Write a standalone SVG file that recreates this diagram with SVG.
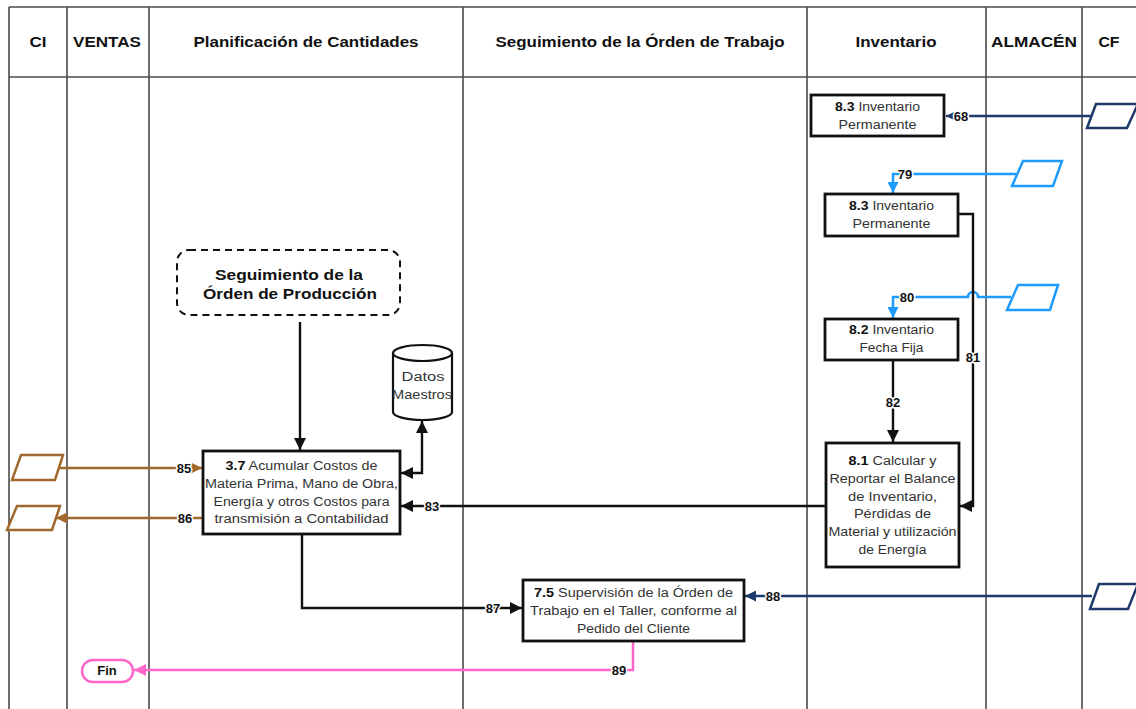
<svg xmlns="http://www.w3.org/2000/svg" width="1136" height="709" viewBox="0 0 1136 709">
  <style>
    .lane { stroke: #4a4a4a; stroke-width: 1.6; fill: none; }
    .hdr { font-family: "Liberation Sans", Arial, sans-serif; font-weight: bold; font-size: 14.5px; fill: #111; text-anchor: middle; }
    .box { fill: #fff; stroke: #111; stroke-width: 2.8; }
    .txt { font-family: "Liberation Sans", Arial, sans-serif; font-size: 12.5px; fill: #333; text-anchor: middle; }
    .num { font-weight: bold; fill: #111; }
    .lbl { font-family: "Liberation Sans", Arial, sans-serif; font-weight: bold; font-size: 13px; fill: #111; text-anchor: middle; paint-order: stroke; stroke: #fff; stroke-width: 3px; }
    .k { stroke: #111; stroke-width: 2.4; fill: none; }
    .navy { stroke: #1d3a6b; stroke-width: 2.5; fill: none; }
    .sky { stroke: #1e9bff; stroke-width: 2.5; fill: none; }
    .brown { stroke: #a0692e; stroke-width: 2.5; fill: none; }
    .pink { stroke: #ff66cc; stroke-width: 2.5; fill: none; }
    .doc-navy { fill: #fff; stroke: #1d3a6b; stroke-width: 2.5; }
    .doc-sky { fill: #fff; stroke: #1e9bff; stroke-width: 2.5; }
    .doc-brown { fill: #fff; stroke: #a0692e; stroke-width: 2.5; }
  </style>
  <defs>
    <marker id="ak" viewBox="0 0 10 10" refX="10" refY="5" markerWidth="12" markerHeight="12" markerUnits="userSpaceOnUse" orient="auto-start-reverse">
      <path d="M0,0 L10,5 L0,10 z" fill="#111"/>
    </marker>
    <marker id="an" viewBox="0 0 10 10" refX="10" refY="5" markerWidth="11" markerHeight="11" markerUnits="userSpaceOnUse" orient="auto">
      <path d="M0,0 L10,5 L0,10 z" fill="#1d3a6b"/>
    </marker>
    <marker id="as" viewBox="0 0 10 10" refX="10" refY="5" markerWidth="11" markerHeight="11" markerUnits="userSpaceOnUse" orient="auto">
      <path d="M0,0 L10,5 L0,10 z" fill="#1e9bff"/>
    </marker>
    <marker id="ab" viewBox="0 0 10 10" refX="10" refY="5" markerWidth="11" markerHeight="11" markerUnits="userSpaceOnUse" orient="auto">
      <path d="M0,0 L10,5 L0,10 z" fill="#a0692e"/>
    </marker>
    <marker id="ap" viewBox="0 0 10 10" refX="10" refY="5" markerWidth="12" markerHeight="12" markerUnits="userSpaceOnUse" orient="auto">
      <path d="M0,0 L10,5 L0,10 z" fill="#ff66cc"/>
    </marker>
  </defs>

  <rect width="1136" height="709" fill="#fff"/>

  <!-- swimlane frame -->
  <g id="lanes">
    <line class="lane" x1="9" y1="7" x2="1136" y2="7"/>
    <line class="lane" x1="9" y1="77" x2="1136" y2="77"/>
    <line class="lane" x1="9" y1="7" x2="9" y2="709"/>
    <line class="lane" x1="67" y1="7" x2="67" y2="709"/>
    <line class="lane" x1="149" y1="7" x2="149" y2="709"/>
    <line class="lane" x1="463" y1="7" x2="463" y2="709"/>
    <line class="lane" x1="807" y1="7" x2="807" y2="709"/>
    <line class="lane" x1="986" y1="7" x2="986" y2="709"/>
    <line class="lane" x1="1082" y1="7" x2="1082" y2="709"/>
    <text class="hdr" x="38" y="47" textLength="17" lengthAdjust="spacingAndGlyphs">CI</text>
    <text class="hdr" x="107" y="47" textLength="68" lengthAdjust="spacingAndGlyphs">VENTAS</text>
    <text class="hdr" x="306" y="47" textLength="225" lengthAdjust="spacingAndGlyphs">Planificación de Cantidades</text>
    <text class="hdr" x="640" y="47" textLength="289" lengthAdjust="spacingAndGlyphs">Seguimiento de la Órden de Trabajo</text>
    <text class="hdr" x="896" y="47" textLength="81" lengthAdjust="spacingAndGlyphs">Inventario</text>
    <text class="hdr" x="1034" y="47" textLength="86" lengthAdjust="spacingAndGlyphs">ALMACÉN</text>
    <text class="hdr" x="1109" y="47" textLength="21" lengthAdjust="spacingAndGlyphs">CF</text>
  </g>

  <!-- connectors -->
  <g id="connectors">
    <path class="navy" d="M1091,116 H946" marker-end="url(#an)"/>
    <path class="sky" d="M1016,174 H893 V193" marker-end="url(#as)"/>
    <path class="sky" d="M1011,297 H978 A5,5 0 0 0 968,297 H893 V318" marker-end="url(#as)"/>
    <path class="k" d="M959,214 H973 V506 H960" marker-end="url(#ak)"/>
    <path class="k" d="M893,360 V442" marker-end="url(#ak)"/>
    <path class="k" d="M827,506 H401" marker-end="url(#ak)"/>
    <path class="k" d="M401,473 H422 V421" marker-start="url(#ak)" marker-end="url(#ak)"/>
    <path class="k" d="M300,322 V450" marker-end="url(#ak)"/>
    <path class="brown" d="M58,468 H202" marker-end="url(#ab)"/>
    <path class="brown" d="M203,518 H56" marker-end="url(#ab)"/>
    <path class="k" d="M302,535 V608 H522" marker-end="url(#ak)"/>
    <path class="navy" d="M1092,596 H745" marker-end="url(#an)"/>
    <path class="pink" d="M633,642 V670 H134" marker-end="url(#ap)"/>

    <text class="lbl" x="961" y="121">68</text>
    <text class="lbl" x="905" y="179">79</text>
    <text class="lbl" x="907" y="302">80</text>
    <text class="lbl" x="973" y="362">81</text>
    <text class="lbl" x="893" y="407">82</text>
    <text class="lbl" x="432" y="511">83</text>
    <text class="lbl" x="184" y="473">85</text>
    <text class="lbl" x="185" y="523">86</text>
    <text class="lbl" x="493" y="613">87</text>
    <text class="lbl" x="773" y="601">88</text>
    <text class="lbl" x="619" y="675">89</text>
  </g>

  <!-- external documents -->
  <g id="doc68"><polygon class="doc-navy" points="1096,104 1138,104 1127,128 1087,128"/></g>
  <g id="doc79"><polygon class="doc-sky" points="1023,161 1062,161 1053,186 1012,186"/></g>
  <g id="doc80"><polygon class="doc-sky" points="1018,285 1058,285 1050,310 1007,310"/></g>
  <g id="doc85"><polygon class="doc-brown" points="21,455 63,455 55,480 12,480"/></g>
  <g id="doc86"><polygon class="doc-brown" points="17,506 60,506 52,530 7,530"/></g>
  <g id="doc88"><polygon class="doc-navy" points="1099,584 1138,584 1128,609 1090,609"/></g>

  <!-- process boxes -->
  <g id="n83a">
    <rect class="box" x="811" y="95" width="133" height="41"/>
    <text class="txt" x="877.5" y="111" textLength="85" lengthAdjust="spacingAndGlyphs"><tspan class="num">8.3</tspan> Inventario</text>
    <text class="txt" x="877.5" y="129" textLength="78" lengthAdjust="spacingAndGlyphs">Permanente</text>
  </g>
  <g id="n83b">
    <rect class="box" x="825" y="194" width="133" height="42"/>
    <text class="txt" x="891.5" y="210" textLength="85" lengthAdjust="spacingAndGlyphs"><tspan class="num">8.3</tspan> Inventario</text>
    <text class="txt" x="891.5" y="228" textLength="78" lengthAdjust="spacingAndGlyphs">Permanente</text>
  </g>
  <g id="n82">
    <rect class="box" x="825" y="319" width="133" height="41"/>
    <text class="txt" x="891.5" y="334" textLength="85" lengthAdjust="spacingAndGlyphs"><tspan class="num">8.2</tspan> Inventario</text>
    <text class="txt" x="891.5" y="352" textLength="64" lengthAdjust="spacingAndGlyphs">Fecha Fija</text>
  </g>
  <g id="n81">
    <rect class="box" x="826" y="443" width="133" height="124"/>
    <text class="txt" x="892.5" y="465" textLength="88" lengthAdjust="spacingAndGlyphs"><tspan class="num">8.1</tspan> Calcular y</text>
    <text class="txt" x="892.5" y="483" textLength="126" lengthAdjust="spacingAndGlyphs">Reportar el Balance</text>
    <text class="txt" x="892.5" y="501" textLength="89" lengthAdjust="spacingAndGlyphs">de Inventario,</text>
    <text class="txt" x="892.5" y="518" textLength="77" lengthAdjust="spacingAndGlyphs">Pérdidas de</text>
    <text class="txt" x="892.5" y="536" textLength="128" lengthAdjust="spacingAndGlyphs">Material y utilización</text>
    <text class="txt" x="892.5" y="554" textLength="68" lengthAdjust="spacingAndGlyphs">de Energía</text>
  </g>
  <g id="n37">
    <rect class="box" x="203" y="451" width="197" height="83"/>
    <text class="txt" x="301.5" y="470" textLength="152" lengthAdjust="spacingAndGlyphs"><tspan class="num">3.7</tspan> Acumular Costos de</text>
    <text class="txt" x="301.5" y="488" textLength="193" lengthAdjust="spacingAndGlyphs">Materia Prima, Mano de Obra,</text>
    <text class="txt" x="301.5" y="506" textLength="176" lengthAdjust="spacingAndGlyphs">Energía y otros Costos para</text>
    <text class="txt" x="301.5" y="523" textLength="174" lengthAdjust="spacingAndGlyphs">transmisión a Contabilidad</text>
  </g>
  <g id="n75">
    <rect class="box" x="523" y="580" width="221" height="61"/>
    <text class="txt" x="633.5" y="597" textLength="199" lengthAdjust="spacingAndGlyphs"><tspan class="num">7.5</tspan> Supervisión de la Órden de</text>
    <text class="txt" x="633.5" y="615" textLength="207" lengthAdjust="spacingAndGlyphs">Trabajo en el Taller, conforme al</text>
    <text class="txt" x="633.5" y="633" textLength="113" lengthAdjust="spacingAndGlyphs">Pedido del Cliente</text>
  </g>

  <!-- off-page reference -->
  <g id="seguimiento">
    <rect x="177" y="250" width="223" height="65" rx="12" fill="#fff" stroke="#111" stroke-width="2" stroke-dasharray="7,5"/>
    <text class="hdr" x="289" y="280" font-size="15.5" textLength="148" lengthAdjust="spacingAndGlyphs">Seguimiento de la</text>
    <text class="hdr" x="290" y="299" font-size="15.5" textLength="174" lengthAdjust="spacingAndGlyphs">Órden de Producción</text>
  </g>

  <!-- master data store -->
  <g id="datos">
    <path d="M393,353 V412 A29.5,8 0 0 0 452,412 V353" fill="#fff" stroke="#111" stroke-width="2.2"/>
    <ellipse cx="422.5" cy="353" rx="29.5" ry="8" fill="#fff" stroke="#111" stroke-width="2.2"/>
    <text class="txt" x="423" y="381" textLength="43" lengthAdjust="spacingAndGlyphs" fill="#555">Datos</text>
    <text class="txt" x="422" y="399" textLength="60" lengthAdjust="spacingAndGlyphs" fill="#555">Maestros</text>
  </g>

  <!-- end terminator -->
  <g id="fin">
    <rect x="82" y="660" width="51" height="22" rx="11" fill="#fff" stroke="#ff66cc" stroke-width="2.5"/>
    <text class="lbl" x="107" y="675" style="stroke:none">Fin</text>
  </g>
</svg>
